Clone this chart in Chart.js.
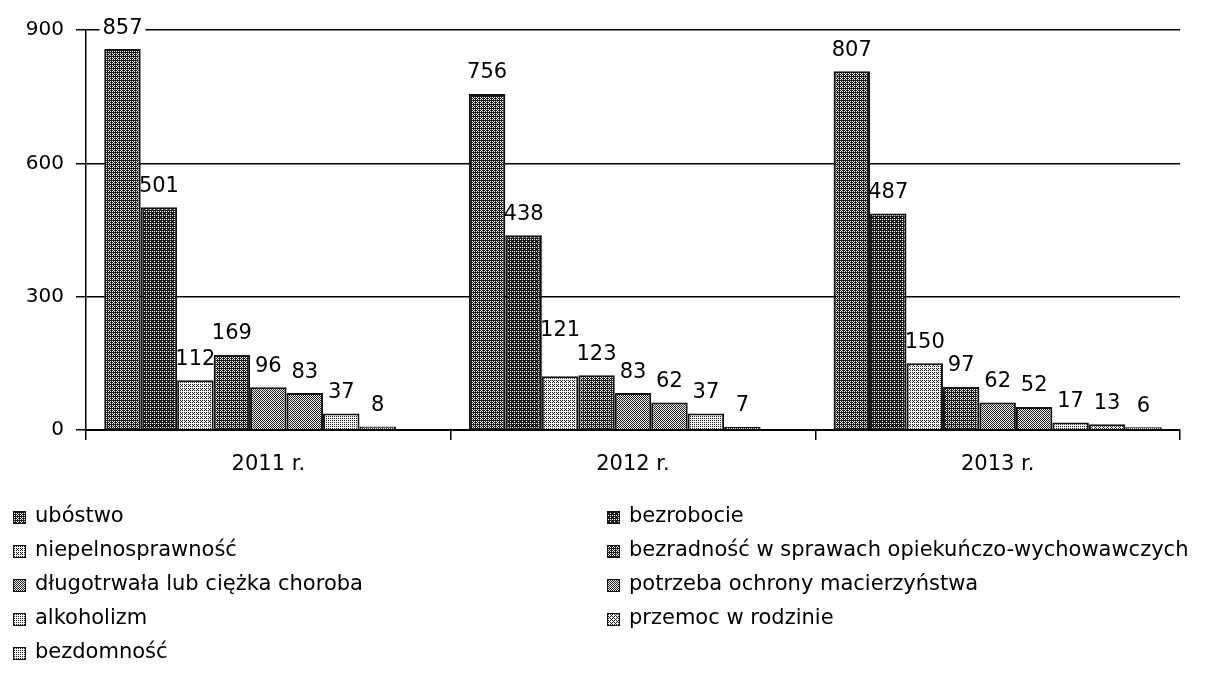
<!DOCTYPE html>
<html><head><meta charset="utf-8">
<script src="https://cdn.jsdelivr.net/npm/chart.js@4/dist/chart.umd.min.js"></script>
<style>html,body{margin:0;padding:0;background:#fff;overflow:hidden}#wrap{width:1210px;height:678px;position:relative}</style>
</head><body><div id="wrap"><canvas id="c" width="1210" height="678"></canvas></div>
<script>
const categories = ['2011 r.', '2012 r.', '2013 r.'];
const seriesNames = ['ubóstwo', 'bezrobocie', 'niepelnosprawność', 'bezradność w sprawach opiekuńczo-wychowawczych', 'długotrwała lub ciężka choroba', 'potrzeba ochrony macierzyństwa', 'alkoholizm', 'przemoc w rodzinie', 'bezdomność'];
const ubostwo = [857, 756, 807];
const bezrobocie = [501, 438, 487];
const niepelnosprawnosc = [112, 121, 150];
const bezradnosc = [169, 123, 97];
const choroba = [96, 83, 62];
const macierzynstwo = [83, 62, 52];
const alkoholizm = [37, 37, 17];
const przemoc = [8, 7, 13];
const bezdomnosc = [null, null, 6];
const yTicks = [0, 300, 600, 900];
const seriesValues = [ubostwo, bezrobocie, niepelnosprawnosc, bezradnosc, choroba, macierzynstwo, alkoholizm, przemoc, bezdomnosc];
const darkness = [0.66, 0.8, 0.3, 0.66, 0.44, 0.5, 0.25, 0.35, 0.2];

const bayer = [[0,8,2,10],[12,4,14,6],[3,11,1,9],[15,7,13,5]];
function makePattern(level){
  const cv = document.createElement('canvas'); cv.width = 4; cv.height = 4;
  const g = cv.getContext('2d');
  for(let y=0;y<4;y++) for(let x=0;x<4;x++){
    g.fillStyle = (bayer[y][x] < level*16) ? '#1e1e1e' : '#f4f4f4';
    g.fillRect(x,y,1,1);
  }
  return g.createPattern(cv,'repeat');
}
const patterns = darkness.map(makePattern);

const FONT = '"DejaVu Sans", sans-serif';
const LABEL_FONT = '21px ' + FONT;

function labelBoxes(chart){
  const c = chart.ctx; c.save(); c.font = LABEL_FONT;
  const groups = chart.data.labels.map(()=>[]);
  chart.data.datasets.forEach((ds,i)=>{
    const meta = chart.getDatasetMeta(i);
    meta.data.forEach((bar,j)=>{
      const v = ds.data[j]; if(v==null) return;
      const t = String(v); const w = c.measureText(t).width;
      groups[j].push({t, x:bar.x, y:bar.y - 21, w, h:20});
    });
  });
  c.restore();
  // simple collision avoidance: raise a label above its right neighbour if they collide
  groups.forEach(g=>{
    for(let k=g.length-2;k>=0;k--){
      const a=g[k], b=g[k+1];
      const hOverlap = (a.x + a.w/2) > (b.x - b.w/2);
      const vOverlap = Math.abs(a.y - b.y) < a.h;
      if(hOverlap && vOverlap) a.y = Math.min(a.y, b.y - a.h - 4);
    }
  });
  return groups.flat();
}

const valueLabels = {
  id:'valueLabels',
  beforeDatasetsDraw(chart){
    const c = chart.ctx; c.save(); c.fillStyle='#fff';
    labelBoxes(chart).forEach(b=>c.fillRect(b.x - b.w/2 - 3, b.y - 10, b.w + 6, 20));
    c.restore();
  },
  afterDatasetsDraw(chart){
    const c = chart.ctx; c.save();
    c.font = LABEL_FONT; c.textAlign='center'; c.textBaseline='middle'; c.fillStyle='#000';
    labelBoxes(chart).forEach(b=>c.fillText(b.t, b.x, b.y));
    c.restore();
  }
};

const sideLegend = {
  id:'sideLegend',
  afterDraw(chart){
    const c = chart.ctx; c.save();
    c.font = '21px ' + FONT; c.textBaseline='middle'; c.textAlign='left';
    chart.data.datasets.forEach((ds,i)=>{
      const col = i % 2, row = Math.floor(i/2);
      const x = col ? 607 : 13; const y = 517 + row*34;
      c.fillStyle = ds.backgroundColor; c.fillRect(x, y-6, 13, 13);
      c.strokeStyle='#111'; c.lineWidth=1; c.strokeRect(x+0.5, y-5.5, 12, 12);
      c.fillStyle='#000'; c.fillText(ds.label, x + 22, y);
    });
    c.restore();
  }
};

new Chart(document.getElementById('c').getContext('2d'), {
  type:'bar',
  data:{
    labels: categories,
    datasets: seriesNames.map((n,i)=>({
      label:n, data:seriesValues[i], backgroundColor:patterns[i],
      borderColor:'#111', borderWidth:{top:2,left:2,right:2,bottom:0}, borderSkipped:'bottom',
      categoryPercentage:0.9, barPercentage:1.0
    }))
  },
  options:{
    responsive:false, animation:false,
    layout:{padding:{left:0,right:30,top:30,bottom:188}},
    plugins:{legend:{display:false}, tooltip:{enabled:false}},
    scales:{
      x:{
        grid:{display:true, drawOnChartArea:false, color:'#000', lineWidth:1.5, tickLength:10, offset:true},
        border:{color:'#000', width:2},
        ticks:{color:'#000', font:{family:FONT, size:21}, padding:12},
        afterFit(s){ s.height = 60; }
      },
      y:{
        min:0, max:900,
        afterBuildTicks(s){ s.ticks = yTicks.map(v=>({value:v})); },
        ticks:{color:'#000', font:{family:FONT, size:20}, padding:12},
        grid:{color:'#000', lineWidth:1.5, tickLength:10},
        border:{color:'#000', width:1.5},
        afterFit(s){ s.width = 86; }
      }
    }
  },
  plugins:[valueLabels, sideLegend]
});
</script></body></html>
